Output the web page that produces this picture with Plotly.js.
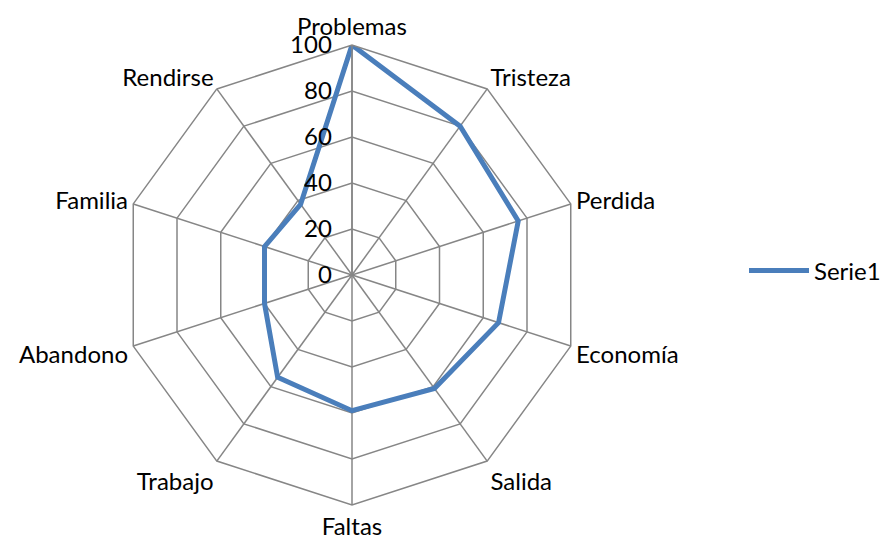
<!DOCTYPE html>
<html>
<head>
<meta charset="utf-8">
<script src="https://cdn.plot.ly/plotly-3.0.1.min.js"></script>
<style>html,body{margin:0;padding:0;background:#fff;}#chart{width:886px;height:544px;}</style>
</head>
<body>
<div id="chart"></div>
<script>
const categories = ["Problemas","Tristeza","Perdida","Economía","Salida","Faltas","Trabajo","Abandono","Familia","Rendirse"];
const values = [100, 80, 76, 67, 61, 59, 55, 40, 40, 38];
const seriesName = "Serie1";
const radialTicks = [0, 20, 40, 60, 80, 100];

const W = 886, H = 544, cx = 352, cy = 275, R = 230;

const trace = {
  type: 'scatterpolar',
  r: values.concat([values[0]]),
  theta: categories.concat([categories[0]]),
  mode: 'lines',
  name: seriesName,
  showlegend: true,
  line: {color: '#4a7ebb', width: 5},
  hoverinfo: 'skip'
};

const layout = {
  width: W, height: H,
  margin: {l: 0, r: 0, t: 0, b: 0},
  paper_bgcolor: '#fff',
  plot_bgcolor: '#fff',
  font: {family: 'Lato, "Open Sans", sans-serif', size: 24, color: '#000'},
  showlegend: true,
  legend: {x: 0.84, y: 0.502, xanchor: 'left', yanchor: 'middle', font: {size: 24}, itemwidth: 60, bgcolor: 'rgba(0,0,0,0)'},
  polar: {
    domain: {x: [(cx - R) / W, (cx + R) / W], y: [(H - cy - R) / H, (H - cy + R) / H]},
    gridshape: 'linear',
    bgcolor: '#fff',
    radialaxis: {
      range: [0, 100],
      tickvals: radialTicks,
      ticktext: radialTicks.map(String),
      angle: 90,
      tickangle: 90,
      side: 'counterclockwise',
      showline: true,
      linecolor: '#868686',
      linewidth: 1.5,
      gridcolor: '#868686',
      gridwidth: 1.5,
      ticks: 'outside',
      ticklen: 11,
      tickcolor: 'rgba(0,0,0,0)',
      tickfont: {size: 24}
    },
    angularaxis: {
      rotation: 90,
      direction: 'clockwise',
      showline: true,
      linecolor: '#868686',
      linewidth: 1.5,
      gridcolor: '#868686',
      gridwidth: 1.5,
      ticks: '',
      tickfont: {size: 24}
    }
  }
};

Plotly.newPlot('chart', [trace], layout, {displayModeBar: false, staticPlot: true});
</script>
</body>
</html>
